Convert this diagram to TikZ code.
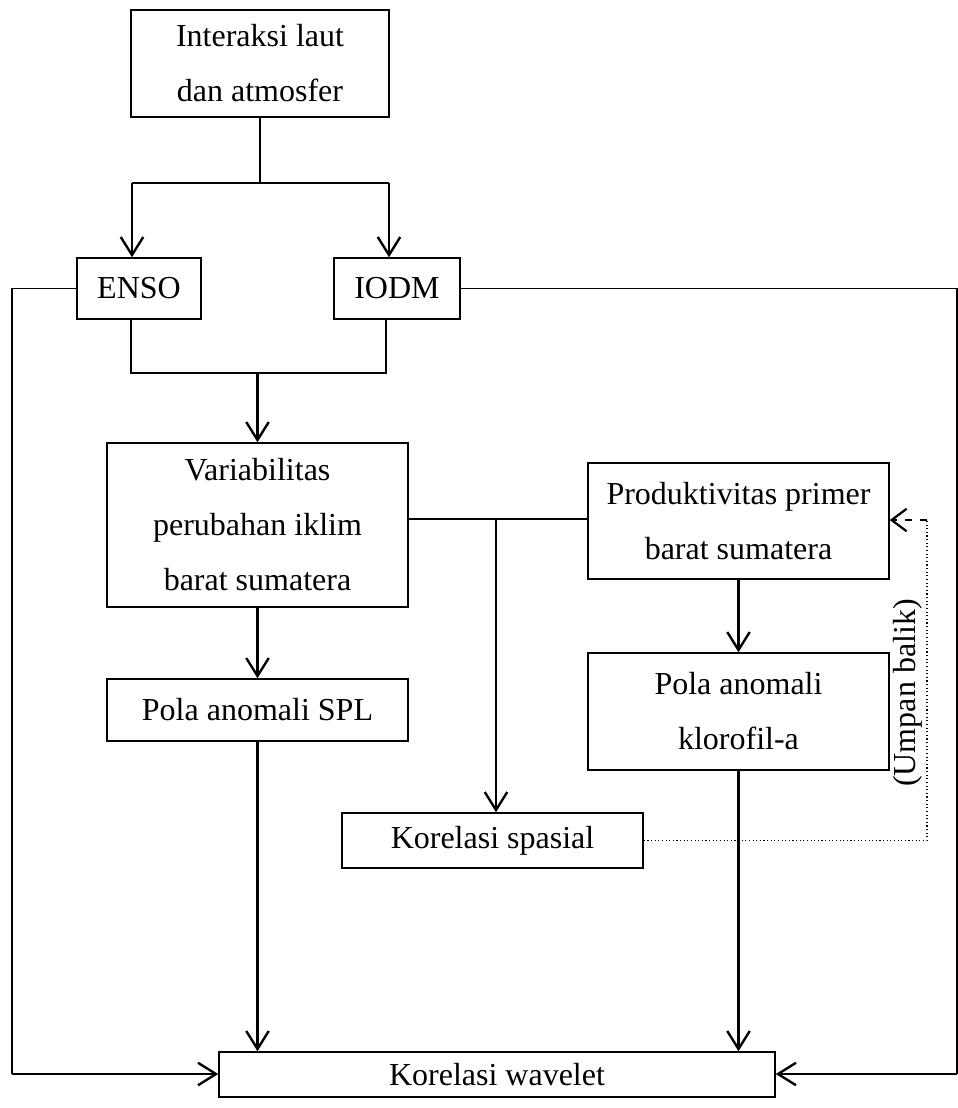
\documentclass[tikz,border=0pt]{standalone}
\usepackage{fontspec}
\setmainfont{Liberation Serif}
\usepackage{tikz}
\usetikzlibrary{arrows.meta, positioning}

\begin{document}
\begin{tikzpicture}[
    x=0.4pt, y=-0.4pt,
    box/.style={draw, line width=0.6pt, align=center, inner sep=0pt,
        font=\fontsize{12.8}{22}\selectfont},
    arrow/.style={-{Straight Barb[length=7.2pt, width=9pt]}, line width=0.95pt},
    plain/.style={line width=0.45pt},
    fbline/.style={densely dotted, line width=0.45pt},
    fbarrow/.style={dashed, -{Straight Barb[length=6pt, width=9pt]}, line width=0.9pt}
]
\useasboundingbox (0,0) rectangle (958,1108);

% Nodes
\node[box, minimum width=103.2pt, minimum height=42.8pt] (inter) at (260,63.5) {Interaksi laut \\ dan atmosfer};
\node[box, minimum width=49.6pt, minimum height=24.4pt] (enso) at (139,288.5) {ENSO};
\node[box, minimum width=50.4pt, minimum height=24.4pt] (iodm) at (397,288.5) {IODM};
\node[box, minimum width=120.4pt, minimum height=65.6pt] (var) at (257.5,525) {Variabilitas \\ perubahan iklim \\ barat sumatera};
\node[box, minimum width=120.4pt, minimum height=46.4pt] (prod) at (738.5,521) {Produktivitas primer \\ barat sumatera};
\node[box, minimum width=120.4pt, minimum height=24.8pt] (spl) at (257.5,710) {Pola anomali SPL};
\node[box, minimum width=120.4pt, minimum height=46.8pt] (klor) at (738.5,711.5) {Pola anomali \\ klorofil-a};
\node[box, minimum width=120.4pt, minimum height=22pt] (spas) at (492.5,840.5) {Korelasi spasial};
\node[box, minimum width=222.4pt, minimum height=18pt] (wave) at (497,1074.5) {Korelasi wavelet};
\node[rotate=90, font=\fontsize{12.8}{15}\selectfont] (umpan) at (908,693) {(Umpan balik)};

% Junctions
\coordinate (jl) at (132,183);
\coordinate (jr) at (389,183);
\coordinate (ej) at (131,373);
\coordinate (ij) at (386,373);
\coordinate (bj) at (496,519);
\coordinate (cl) at (12,1074);
\coordinate (cr) at (957,1074);
\coordinate (fb) at (927,520);

% Edges
\draw[plain] (inter.south) -- (inter.south |- jl);
\draw[plain] (jl) -- (jr);
\draw[arrow] (jl) -- (jl |- enso.north);
\draw[arrow] (jr) -- (jr |- iodm.north);
\draw[plain] (ej |- enso.south) -- (ej) -- (ij) -- (ij |- iodm.south);
\draw[arrow] (var.north |- ej) -- (var.north);
\draw[plain] (enso.west) -| (cl);
\draw[arrow] (cl) -- (cl -| wave.west);
\draw[plain] (iodm.east) -| (cr);
\draw[arrow] (cr) -- (cr -| wave.east);
\draw[plain] (prod.west |- bj) -- (var.east |- bj);
\draw[arrow] (bj) -- (bj |- spas.north);
\draw[arrow] (var.south) -- (spl.north);
\draw[arrow] (spl.south) -- (spl.south |- wave.north);
\draw[arrow] (prod.south) -- (klor.north);
\draw[arrow] (klor.south) -- (klor.south |- wave.north);
\draw[fbline] (spas.east) -| (fb);
\draw[fbarrow] (fb) -- (fb -| prod.east);

\end{tikzpicture}
\end{document}
